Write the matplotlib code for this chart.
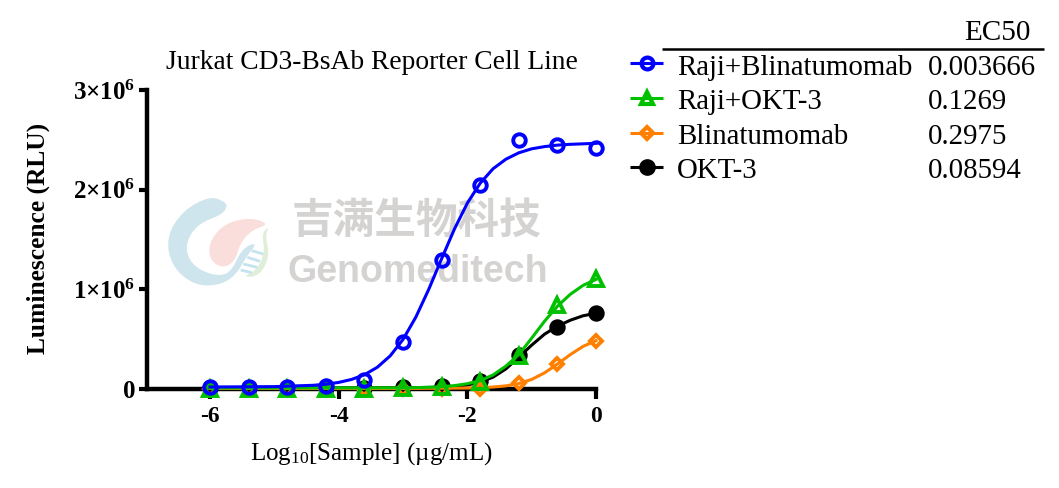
import numpy as np
import matplotlib
matplotlib.use("Agg")
import matplotlib.pyplot as plt
from matplotlib.path import Path
from matplotlib.patches import PathPatch

plt.rcParams['font.family'] = ['Liberation Serif', 'DejaVu Serif']
plt.rcParams['mathtext.fontset'] = 'custom'
plt.rcParams['mathtext.rm'] = 'Liberation Serif'
plt.rcParams['mathtext.bf'] = 'Liberation Serif:bold'
plt.rcParams['mathtext.it'] = 'Liberation Serif:italic'

# ---- data ----
dose_log = [-6, -5.4, -4.8, -4.2, -3.6, -3, -2.4, -1.8, -1.2, -0.6, 0]
blina_raji = [0.02, 0.02, 0.02, 0.03, 0.09, 0.47, 1.29, 2.05, 2.50, 2.45, 2.42]
okt_raji = [0.0, 0.0, 0.0, 0.0, 0.0, 0.01, 0.02, 0.07, 0.33, 0.84, 1.10]
blina = [0.0, 0.0, 0.0, 0.0, 0.0, 0.0, 0.0, 0.0, 0.06, 0.25, 0.48]
okt = [0.01, 0.01, 0.01, 0.01, 0.01, 0.02, 0.03, 0.08, 0.34, 0.62, 0.76]

fit_x_blina_raji = [-6, -5, -4.4, -4.2, -4, -3.8, -3.6, -3.4, -3.2, -3, -2.8, -2.6, -2.4, -2.2,
                    -2, -1.8, -1.6, -1.4, -1.2, -1, -0.8, -0.6, -0.4, -0.2, 0]
fit_y_blina_raji = [0.02, 0.024, 0.037, 0.048, 0.066, 0.096, 0.143, 0.218, 0.332, 0.497, 0.722,
                    1.0, 1.307, 1.606, 1.865, 2.065, 2.21, 2.306, 2.37, 2.41, 2.432, 2.447,
                    2.455, 2.46, 2.465]
fit_x_okt_raji = [-6, -3, -2.8, -2.6, -2.4, -2.2, -2, -1.8, -1.6, -1.4, -1.2, -1, -0.8, -0.6, -0.4, -0.2, 0]
fit_y_okt_raji = [0.01, 0.012, 0.014, 0.017, 0.023, 0.034, 0.053, 0.084, 0.141, 0.23, 0.345,
                  0.51, 0.68, 0.83, 0.95, 1.04, 1.10]
fit_x_blina = [-6, -3, -2.4, -2, -1.8, -1.6, -1.4, -1.2, -1, -0.8, -0.6, -0.4, -0.2, 0]
fit_y_blina = [0.005, 0.005, 0.008, 0.01, 0.012, 0.02, 0.031, 0.055, 0.096, 0.162, 0.25, 0.345, 0.428, 0.485]
fit_x_okt = [-6, -3, -2.4, -2.2, -2, -1.8, -1.6, -1.4, -1.2, -1, -0.8, -0.6, -0.4, -0.2, 0]
fit_y_okt = [0.01, 0.012, 0.018, 0.026, 0.04, 0.07, 0.119, 0.202, 0.32, 0.44, 0.55, 0.63, 0.69, 0.735, 0.76]

names = ["Raji+Blinatumomab", "Raji+OKT-3", "Blinatumomab", "OKT-3"]
ec50 = ["0.003666", "0.1269", "0.2975", "0.08594"]
x_ticks = [-6, -4, -2, 0]
y_ticks = [0, 1, 2, 3]
y_tick_labels = ["0", "1×10$^{\\mathbf{6}}$", "2×10$^{\\mathbf{6}}$", "3×10$^{\\mathbf{6}}$"]

W, H = 1059, 488
fig = plt.figure(figsize=(W / 100, H / 100), dpi=100, facecolor='white')

# pixel-coordinate layer: watermark and EC50 legend table
ov = fig.add_axes([0, 0, 1, 1], zorder=0)
ov.set_xlim(0, W); ov.set_ylim(H, 0); ov.axis('off')


def blob(points, color, alpha=1.0):
    pts = np.array(points, float) / 3 + np.array([150, 180])
    mids = (pts + np.roll(pts, -1, axis=0)) / 2
    verts = [mids[-1]]
    codes = [Path.MOVETO]
    for p, m in zip(pts, mids):
        verts += [p, m]
        codes += [Path.CURVE3, Path.CURVE3]
    ov.add_patch(PathPatch(Path(verts, codes), fc=color, ec='none', alpha=alpha))


blob([(360, 132), (300, 112), (225, 130), (180, 180), (176, 235), (215, 266), (255, 245),
      (270, 190), (305, 150)], '#f9dedb')
blob([(225, 65), (180, 48), (100, 90), (48, 170), (65, 260), (135, 318), (215, 315),
      (262, 280), (285, 235), (325, 185), (275, 205), (240, 285), (180, 285), (120, 250),
      (105, 190), (145, 130), (215, 105), (232, 80)], '#cfe5ee')
blob([(358, 138), (335, 160), (345, 215), (322, 270), (275, 292), (330, 288), (360, 225),
      (345, 170)], '#deeed9')
for (a, b) in [((305, 212), (340, 222)), ((292, 232), (330, 244)), ((280, 252), (322, 262)), ((272, 270), (305, 278))]:
    ov.plot([a[0] / 3 + 150, b[0] / 3 + 150], [a[1] / 3 + 180, b[1] / 3 + 180], color='#c5e3ee', lw=2, solid_capstyle='butt')
ov.text(417, 221, "吉满生物科技", family=['Noto Sans CJK SC', 'DejaVu Sans'], fontweight='bold',
        fontsize=30, color='#d4d3d2', ha='center', va='center')
ov.text(418, 282, "Genomeditech", family=['Liberation Sans'], fontweight='bold',
        fontsize=27, color='#d4d3d2', ha='center', va='baseline')

# main chart
x0, x1, y0, y1 = 147, 596, 389, 90
ax = fig.add_axes([x0 / W, 1 - y0 / H, (x1 - x0) / W, (y0 - y1) / H], zorder=1)
ax.patch.set_alpha(0)
ax.set_xlim(-6.98, 0)
ax.set_ylim(0, 3)

series = [
    (okt, fit_x_okt, fit_y_okt, '#000000', 'o', True, 9),
    (blina, fit_x_blina, fit_y_blina, '#ff8000', 'D', False, 6.5),
    (okt_raji, fit_x_okt_raji, fit_y_okt_raji, '#00c000', '^', False, 10),
    (blina_raji, fit_x_blina_raji, fit_y_blina_raji, '#0000ff', 'o', False, 9),
]
for vals, fx, fy, col, mk, filled, ms in series:
    ax.plot(fx, fy, color=col, lw=2.2, clip_on=False, solid_joinstyle='round', zorder=3)
    ax.plot(dose_log, vals, ls='none', marker=mk, ms=ms, mew=2.8, mec=col,
            mfc=col if filled else 'none', clip_on=False, zorder=3)

for s in ['top', 'right']:
    ax.spines[s].set_visible(False)
for s in ['left', 'bottom']:
    ax.spines[s].set_linewidth(3.2)
ax.set_xticks(x_ticks)
ax.set_xticklabels([str(t) for t in x_ticks], fontweight='bold', fontsize=17)
ax.set_yticks(y_ticks)
ax.set_yticklabels(y_tick_labels, fontweight='bold', fontsize=18)
ax.tick_params(axis='x', width=3, length=7, pad=5)
ax.tick_params(axis='y', width=3, length=6, pad=2.6)
ax.set_xlabel("Log$_{10}$[Sample] (µg/mL)", fontsize=18, labelpad=10)
ax.set_ylabel("Luminescence (RLU)", fontweight='bold', fontsize=18.4)
ax.yaxis.set_label_coords((50 - x0) / (x1 - x0), (y0 - 238) / (y0 - y1))
ov.text(372, 69, "Jurkat CD3-BsAb Reporter Cell Line", fontsize=19.8, ha='center', va='baseline')

# legend table
ov.plot([662, 1044], [49, 49], color='black', lw=1.8, solid_capstyle='butt')
ov.text(964, 40.5, "EC50", fontsize=21, ha='left', va='baseline')
handle_y = [63.3, 98, 132.7, 167]
base_y = [75, 109, 144, 178]
legend_style = [('#0000ff', 'o', False, 8.5), ('#00c000', '^', False, 9), ('#ff8000', 'D', False, 6.5), ('#000000', 'o', True, 9)]
for hy, by, nm, ec, (col, mk, filled, ms) in zip(handle_y, base_y, names, ec50, legend_style):
    ov.plot([630, 663], [hy, hy], color=col, lw=2.2, solid_capstyle='butt')
    ov.plot([647], [hy], marker=mk, ms=ms, mew=3, mec=col, mfc=col if filled else 'none')
    ov.text(677, by, nm, fontsize=20.8, ha='left', va='baseline')
    ov.text(928, by, ec, fontsize=20.8, ha='left', va='baseline')

fig.savefig('out.png', dpi=100, facecolor='white')
